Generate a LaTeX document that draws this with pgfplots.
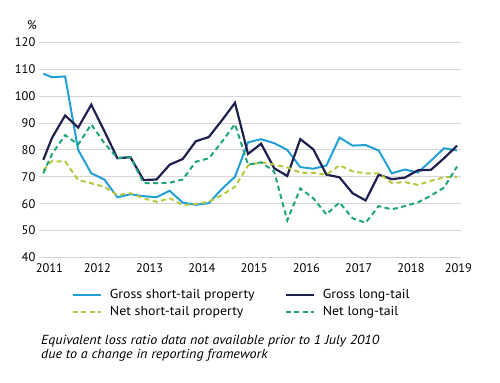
\documentclass[border=0pt]{standalone}
\usepackage{pgfplots}
\usepackage{pgfplotstable}
\pgfplotsset{compat=1.18}
\usepackage{fontspec}
\setmainfont{PT Sans}
\newfontfamily\legfont{PT Sans}[FakeStretch=1.07]
\newfontfamily\notefont{PT Sans}[FakeStretch=1.07]
\definecolor{gs}{RGB}{32,160,215}
\definecolor{gl}{RGB}{30,32,80}
\definecolor{ns}{RGB}{183,200,60}
\definecolor{nl}{RGB}{30,165,125}
\pgfplotstableread{
x gs gl ns nl
0.33 108.3 76.3 72.5 71.3
1 107.0 84.5 75.8 78.5
2 107.3 92.8 75.7 85.5
3 80.0 88.3 68.8 82.0
4 71.3 96.8 67.6 89.5
5 69.0 87.0 66.3 82.5
6 62.4 76.9 63.2 77.0
7 63.5 77.3 63.9 77.3
8 62.8 68.8 62.0 67.7
9 62.4 69.0 60.7 67.6
10 64.8 74.5 62.0 67.8
11 60.4 76.6 59.5 69.0
12 59.6 83.2 59.9 75.6
13 60.2 84.8 60.7 76.9
14 65.5 91.0 63.2 83.0
15 70.0 97.5 66.3 89.6
16 82.8 78.5 74.2 74.5
17 84.0 82.3 75.4 75.4
18 82.5 73.2 74.5 72.0
19 80.0 70.3 73.5 53.8
20 73.6 84.0 71.5 65.7
21 73.0 80.2 71.5 62.0
22 74.2 70.8 70.8 56.0
23 84.6 69.8 74.3 60.5
24 81.6 63.9 72.0 54.6
25 81.8 61.2 71.3 52.9
26 79.8 70.8 71.3 59.1
27 71.3 69.1 67.7 57.9
28 72.7 69.7 68.0 59.1
29 71.6 72.4 67.0 60.5
30 76.0 72.6 68.5 63.0
31 80.6 76.9 69.8 66.0
32 79.8 81.6 70.0 73.8
}\datatable
\begin{document}
\begin{tikzpicture}
\useasboundingbox (-39bp,-125.5bp) rectangle (461bp,257.5bp);
\begin{axis}[
  at={(0,0)}, anchor=south west,
  scale only axis,
  width=422bp, height=215.2bp,
  xmin=0, xmax=32.3,
  ymin=40, ymax=120,
  ytick={40,50,...,120},
  xtick={0.8,4.47,8.47,12.47,16.47,20.47,24.47,28.47,32.1},
  xticklabels={2011,2012,2013,2014,2015,2016,2017,2018,2019},
  ymajorgrids,
  grid style={color=black!16, line width=0.9pt},
  axis line style={draw=none},
  tick style={draw=none},
  /pgf/number format/assume math mode=true,
  ticklabel style={font=\fontsize{12.5}{14}\selectfont},
  yticklabel style={anchor=east, inner sep=0pt, xshift=-3.5bp},
  xticklabel style={anchor=north, inner sep=0pt, yshift=-5.5bp},
  clip=false,
  legend columns=2,
  legend cell align=left,
  legend image code/.code={\draw[#1] (0bp,0bp) -- (28bp,0bp);},
  legend style={at={(rel axis cs:0,0)}, anchor=north west, xshift=33bp, yshift=-32bp,
    draw=none, fill=none, inner sep=0pt, outer sep=0pt,
    font=\legfont\fontsize{13}{15}\selectfont,
    nodes={inner sep=0pt, anchor=west},
    row sep=6.5bp,
    /tikz/every odd column/.append style={column sep=8bp},
    /tikz/every even column/.append style={column sep=30bp}},
]
\addplot[gs, line width=2pt] table[x=x, y=gs] {\datatable};
\addlegendentry{Gross short-tail property}
\addplot[gl, line width=2.2pt] table[x=x, y=gl] {\datatable};
\addlegendentry{Gross long-tail}
\addplot[ns, line width=2pt, dash pattern=on 5bp off 3.5bp] table[x=x, y=ns] {\datatable};
\addlegendentry{Net short-tail property}
\addplot[nl, line width=2pt, dash pattern=on 5bp off 3.5bp] table[x=x, y=nl] {\datatable};
\addlegendentry{Net long-tail}
\end{axis}
\node[font=\fontsize{12.5}{14}\selectfont] at (-7bp,232.5bp) {\%};
\node[anchor=base west, inner sep=0pt, font=\notefont\itshape\fontsize{13.2}{15}\selectfont] at (2bp,-86.5bp) {Equivalent loss ratio data not available prior to 1 July 2010};
\node[anchor=base west, inner sep=0pt, font=\notefont\itshape\fontsize{13.2}{15}\selectfont] at (2bp,-100.8bp) {due to a change in reporting framework};
\end{tikzpicture}
\end{document}
